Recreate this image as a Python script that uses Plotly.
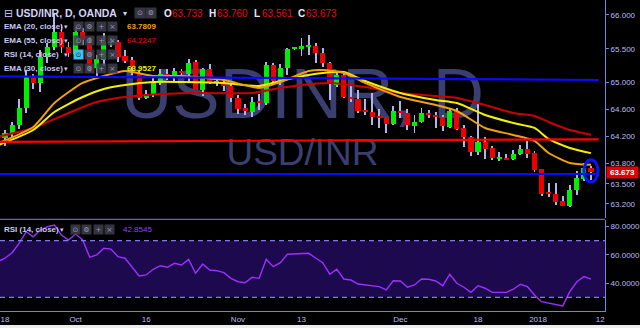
import plotly.graph_objects as go

# ---------------- data ----------------
bar_index = list(range(-1, 84))

opens = [64.222, 64.178, 64.237, 64.370, 64.622, 65.081, 64.993, 65.378, 65.526, 65.748,
         65.526, 65.422, 65.748, 65.600, 65.215, 65.333, 65.585, 65.600, 65.392, 65.333,
         65.141, 64.770, 64.815, 64.993, 65.126, 65.066, 65.170, 65.126, 65.304, 64.889,
         65.200, 64.993, 64.993, 64.948, 64.770, 64.622, 64.563, 64.711, 64.696, 65.259,
         65.022, 65.215, 65.496, 65.496, 65.533, 65.541, 65.437, 65.289, 64.963, 65.111,
         64.785, 64.755, 64.592, 64.563, 64.504, 64.489, 64.385, 64.578, 64.548, 64.355,
         64.415, 64.548, 64.518, 64.489, 64.341, 64.578, 64.326, 64.192, 63.970, 64.118,
         64.030, 63.874, 63.881, 63.866, 63.941, 64.015, 63.955, 63.719, 63.363, 63.348,
         63.244, 63.170, 63.407, 63.570, 63.733]
highs = [64.252, 64.296, 64.415, 64.755, 65.185, 65.126, 65.481, 65.585, 66.029, 65.852,
         65.600, 65.822, 65.807, 65.674, 65.407, 65.733, 65.659, 65.630, 65.481, 65.378,
         65.185, 64.889, 65.111, 65.200, 65.200, 65.215, 65.200, 65.348, 65.333, 65.215,
         65.274, 65.052, 65.052, 64.978, 64.815, 64.681, 64.785, 64.830, 65.304, 65.289,
         65.274, 65.511, 65.511, 65.659, 65.704, 65.585, 65.511, 65.304, 65.155, 65.155,
         64.963, 64.889, 64.755, 64.844, 64.607, 64.489, 64.652, 64.726, 64.607, 64.518,
         64.622, 64.592, 64.563, 64.518, 64.622, 64.622, 64.370, 64.207, 64.696, 64.192,
         64.059, 63.970, 63.941, 64.000, 64.074, 64.133, 63.985, 63.719, 63.511, 63.511,
         63.318, 63.481, 63.689, 63.807, 63.760]
lows = [64.148, 64.059, 64.192, 64.311, 64.548, 64.904, 64.859, 65.289, 65.481, 65.437,
        65.378, 65.363, 65.555, 65.155, 65.096, 65.244, 65.526, 65.304, 65.289, 65.111,
        64.741, 64.755, 64.785, 64.963, 65.037, 65.022, 65.081, 65.007, 64.885, 64.800,
        64.978, 64.948, 64.874, 64.711, 64.533, 64.518, 64.489, 64.592, 64.667, 64.978,
        64.963, 65.111, 65.481, 65.392, 65.407, 65.289, 65.229, 64.741, 64.933, 64.770,
        64.711, 64.548, 64.518, 64.370, 64.326, 64.252, 64.370, 64.474, 64.296, 64.252,
        64.400, 64.474, 64.326, 64.281, 64.326, 64.296, 64.044, 63.911, 63.926, 63.866,
        63.852, 63.837, 63.866, 63.852, 63.926, 63.881, 63.674, 63.318, 63.304, 63.185,
        63.170, 63.155, 63.333, 63.541, 63.561]
closes = [64.178, 64.252, 64.370, 64.622, 65.081, 64.993, 65.378, 65.526, 65.748, 65.526,
          65.437, 65.748, 65.630, 65.229, 65.348, 65.600, 65.600, 65.378, 65.318, 65.229,
          64.770, 64.830, 64.993, 65.126, 65.066, 65.170, 65.141, 65.289, 64.889, 65.200,
          64.993, 65.007, 64.948, 64.770, 64.607, 64.578, 64.711, 64.696, 65.259, 65.022,
          65.215, 65.496, 65.504, 65.541, 65.541, 65.437, 65.289, 64.978, 65.111, 64.785,
          64.755, 64.578, 64.563, 64.489, 64.474, 64.385, 64.578, 64.548, 64.370, 64.415,
          64.548, 64.518, 64.489, 64.355, 64.578, 64.311, 64.192, 63.970, 64.118, 64.015,
          63.881, 63.881, 63.866, 63.941, 64.015, 63.941, 63.704, 63.348, 63.348, 63.230,
          63.170, 63.407, 63.585, 63.733, 63.673]

rsi = [55.2, 57.6, 61.5, 68.1, 76.4, 72.8, 77.6, 79.9, 81.1, 74.0,
       70.5, 74.7, 70.5, 58.3, 59.9, 64.6, 64.1, 58.7, 57.6, 51.6,
       45.1, 45.8, 49.8, 52.3, 51.2, 54.0, 52.8, 56.8, 47.0, 53.5,
       49.3, 48.8, 47.4, 43.4, 41.0, 40.3, 44.1, 43.4, 56.8, 51.6,
       54.5, 60.4, 60.6, 61.1, 61.1, 57.8, 54.5, 46.3, 49.8, 42.9,
       42.2, 39.4, 38.7, 38.0, 37.5, 35.2, 41.7, 41.5, 37.1, 38.7,
       42.9, 42.7, 41.5, 38.2, 46.3, 39.9, 37.1, 33.5, 38.2, 36.4,
       33.5, 33.5, 33.5, 35.7, 39.2, 37.5, 31.6, 26.9, 26.0, 25.3,
       23.9, 34.0, 41.0, 44.6, 42.85]

ema20_idx = [-1, 4, 7, 11, 14, 17, 21, 25, 31, 36, 39, 43, 45, 48, 51, 56, 61, 64, 68, 72, 75, 77, 80, 83]
ema20_val = [64.100, 64.341, 64.696, 64.993, 65.096, 65.170, 65.096, 65.096, 65.037, 64.918, 65.007, 65.170,
             65.185, 65.141, 64.993, 64.785, 64.667, 64.578, 64.326, 64.222, 64.133, 63.955, 63.807, 63.781]
ema30_idx = [-1, 4, 7, 11, 14, 17, 21, 25, 31, 36, 39, 43, 45, 48, 51, 56, 61, 64, 68, 72, 75, 77, 80, 83]
ema30_val = [64.070, 64.296, 64.563, 64.785, 64.904, 64.963, 65.007, 65.007, 64.993, 64.948, 65.022, 65.111,
             65.141, 65.155, 65.022, 64.844, 64.741, 64.696, 64.518, 64.400, 64.326, 64.163, 64.030, 63.953]
ema55_idx = [-1, 4, 9, 13, 17, 20, 27, 35, 39, 42, 46, 51, 56, 61, 64, 68, 72, 75, 77, 80, 83]
ema55_val = [64.195, 64.326, 64.548, 64.711, 64.785, 64.815, 64.844, 64.844, 64.918, 64.963, 64.993, 64.933,
             64.844, 64.800, 64.770, 64.667, 64.548, 64.504, 64.415, 64.296, 64.225]

# user-drawn level lines: (start index, start value, end index, end value)
level_blue_hi = (-1.0, 65.090, 84.1, 65.037)
level_red = (-1.0, 64.120, 84.1, 64.158)
level_blue_lo = (-1.0, 63.644, 84.1, 63.644)

price_ticks = [63.2, 63.5, 63.8, 64.2, 64.6, 65.0, 65.5, 66.0]
rsi_ticks = [40, 60, 80]
tick_pos = [0, 10, 20, 33, 42, 56, 67, 75.5, 84.3]
tick_text = ["18", "Oct", "16", "Nov", "13", "Dec", "18", "2018", "12"]

legend_rows = [("EMA (20, close)", "63.7809", "#f0a010"),
               ("EMA (55, close)", "64.2247", "#c80000"),
               ("RSI (14, close)", "", "#ffffff"),
               ("EMA (30, close)", "63.9527", "#f0f000")]

# ---------------- styling ----------------
GREEN = "#00ee00"
RED = "#ee0000"
WICK = "#b4b4ea"
AX = "#8080dc"
TXT = "#bcbcf4"
FONT = "Liberation Sans, Arial, DejaVu Sans, sans-serif"

W, H = 640, 328
ML, MR, MT, MB = 0, 35, 0, 17
PW, PH = W - ML - MR, H - MT - MB

fig = go.Figure()

# wicks
fig.add_trace(go.Bar(x=bar_index, y=[h - l for h, l in zip(highs, lows)], base=lows,
                     width=0.13, marker=dict(color=WICK, line=dict(width=0)),
                     xaxis="x", yaxis="y", hoverinfo="skip"))
# bodies
body_base = [min(o, c) for o, c in zip(opens, closes)]
body_h = [max(abs(c - o), 0.016) for o, c in zip(opens, closes)]
body_col = [GREEN if c >= o else RED for o, c in zip(opens, closes)]
fig.add_trace(go.Bar(x=bar_index, y=body_h, base=body_base, width=0.72,
                     marker=dict(color=body_col, line=dict(width=0)),
                     xaxis="x", yaxis="y", hoverinfo="skip"))

# EMAs
fig.add_trace(go.Scatter(x=ema55_idx, y=ema55_val, mode="lines", line=dict(color="#cc0000", width=2, shape="spline", smoothing=0.6), xaxis="x", yaxis="y"))
fig.add_trace(go.Scatter(x=ema30_idx, y=ema30_val, mode="lines", line=dict(color="#f5f000", width=2, shape="spline", smoothing=0.6), xaxis="x", yaxis="y"))
fig.add_trace(go.Scatter(x=ema20_idx, y=ema20_val, mode="lines", line=dict(color="#f0a010", width=2, shape="spline", smoothing=0.6), xaxis="x", yaxis="y"))

# level lines
for lv, col in ((level_blue_hi, "#0a0aff"), (level_red, "#ff0000"), (level_blue_lo, "#0a0aff")):
    fig.add_trace(go.Scatter(x=[lv[0], lv[2]], y=[lv[1], lv[3]], mode="lines",
                             line=dict(color=col, width=2.2), xaxis="x", yaxis="y"))

# RSI
fig.add_trace(go.Scatter(x=bar_index, y=rsi, mode="lines", line=dict(color="#9b30ff", width=1.4),
                         xaxis="x2", yaxis="y2"))

shapes = []
# watermark (behind the series)
shapes.append(dict(type="rect", xref="x domain", yref="y domain", x0=0, x1=1, y0=0.50, y1=0.71,
                   line=dict(width=0), fillcolor="rgba(0,0,0,0)", layer="below",
                   label=dict(text="USDINR, D", textposition="middle center",
                              font=dict(size=71, color="#3a3f70", family=FONT))))
shapes.append(dict(type="rect", xref="x domain", yref="y domain", x0=0, x1=1, y0=0.25, y1=0.39,
                   line=dict(width=0), fillcolor="rgba(0,0,0,0)", layer="below",
                   label=dict(text="USD/INR", textposition="middle center",
                              font=dict(size=37, color="#3a3f70", family=FONT))))
# RSI band
shapes.append(dict(type="rect", xref="x2 domain", yref="y2", x0=0, x1=1, y0=30, y1=70,
                   fillcolor="#1d0a4e", line=dict(width=0), layer="below"))
for lvl in (30, 70):
    shapes.append(dict(type="line", xref="x2 domain", yref="y2", x0=0, x1=1, y0=lvl, y1=lvl,
                       line=dict(color="#8078ec", width=1.3, dash="5px,4px")))
# pane separator
sep_y = (PH - 219.3) / PH
shapes.append(dict(type="line", xref="paper", yref="paper", x0=0, x1=1, y0=sep_y, y1=sep_y,
                   line=dict(color=AX, width=1)))
# bottom light strip
shapes.append(dict(type="rect", xref="paper", yref="paper", x0=-0.01, x1=W / PW + 0.01,
                   y0=-(H - PH + 2) / PH, y1=-(325 - PH) / PH, fillcolor="#ececec", line=dict(width=0)))
# highlight ellipse around the last candle
last_i = bar_index[-1]
cy = (highs[-1] + lows[-1]) / 2 + 0.03
shapes.append(dict(type="circle", xref="x", yref="y", x0=last_i - 1.0, x1=last_i + 1.0,
                   y0=cy - 0.165, y1=cy + 0.165, line=dict(color="#0a14ff", width=3)))

ann = []


def px(x):
    return (x - ML) / PW


def py(y):
    return (PH - (y - MT)) / PH


def text(t, x, y, size=8, color="#c8c8f4", bold=False, anchor="left", **kw):
    ann.append(dict(text=("<b>%s</b>" % t) if bold else t, x=px(x), y=py(y), xref="paper", yref="paper",
                    xanchor=anchor, yanchor="middle", showarrow=False,
                    font=dict(size=size, color=color, family=FONT), **kw))


def icon(glyph, cx, cy, bg="rgba(62,62,78,0.85)", fg="#9a9ab0", size=9):
    ann.append(dict(text=glyph, x=px(cx), y=py(cy), xref="paper", yref="paper", xanchor="center",
                    yanchor="middle", showarrow=False, width=size, height=size, bgcolor=bg, borderpad=0,
                    font=dict(size=7, color=fg, family="DejaVu Sans")))


# title row
text("⊟", 2, 13, size=11, color="#c8c8f4")
text("USD/INR, D, OANDA", 14, 13, size=10.5, color="#d4d4f8", bold=True)
text("▾", 121, 13, size=8, color="#d4d4f8")
icon("⊙", 140, 13, size=10)
icon("⚙", 151, 13, size=10)
ohlc = [("O", opens[-1], 162), ("H", highs[-1], 207), ("L", lows[-1], 252), ("C", closes[-1], 296)]
for lab, val, x in ohlc:
    text(lab, x, 13, size=10, color="#e8e8ff", bold=True)
    text("%.3f" % val, x + 8, 13, size=10, color="#e01010")

# indicator rows
row_y = [26.7, 40.7, 54.7, 68.7]
for (name, val, col), y in zip(legend_rows, row_y):
    text(name, 2, y, size=8, color="#c8c8f4", bold=True)
    text("▾", 62, y, size=7, color="#c8c8f4")
    if name.startswith("RSI"):
        icon("⊙", 78, y, bg="#3cc4ee", fg="#1a2a40")
    else:
        icon("⊙", 78, y)
    icon("⚙", 89.5, y)
    icon("+", 101, y)
    icon("×", 112.5, y)
    if val:
        text(val, 125, y, size=8, color=col, bold=True)

# RSI pane legend
text("RSI (14, close)", 2, 230, size=8, color="#c8c8f4", bold=True)
text("▾", 58, 230, size=7, color="#c8c8f4")
icon("⊙", 75, 230)
icon("⚙", 86.5, 230)
icon("+", 98, 230)
icon("×", 109.5, 230)
text("%.4f" % 42.8545, 121, 230, size=8, color="#9040ff")

# last price label on the axis
ann.append(dict(text="<b>%.3f</b>" % closes[-1], x=1, y=closes[-1], xref="paper", yref="y",
                xanchor="left", yanchor="middle", xshift=1, showarrow=False, bgcolor="#e00000",
                width=31, height=11, borderpad=0, font=dict(size=8, color="#ffffff", family=FONT)))

xr = [-5.0 / 7.06, (PW - 5.0) / 7.06]
main_dom = [1 - 218.0 / PH, 1]
rsi_dom = [0, (PH - 219.5) / PH]

fig.update_layout(
    width=W, height=H, margin=dict(l=ML, r=MR, t=MT, b=MB),
    paper_bgcolor="#000000", plot_bgcolor="#000000",
    showlegend=False, barmode="overlay", bargap=0,
    shapes=shapes, annotations=ann,
    xaxis=dict(domain=[0, 1], range=xr, anchor="y", showgrid=False, zeroline=False,
               showticklabels=False, showline=False, ticks=""),
    yaxis=dict(domain=main_dom, range=[62.992, 66.222], side="right", anchor="x",
               tickvals=price_ticks, ticktext=["%.3f" % v for v in price_ticks],
               showgrid=False, zeroline=False, showline=True, linecolor=AX, linewidth=1,
               ticks="outside", ticklen=3, tickcolor=AX,
               tickfont=dict(size=8, color=TXT, family=FONT)),
    xaxis2=dict(domain=[0, 1], range=xr, anchor="y2", showgrid=False, zeroline=False,
                showline=True, linecolor=AX, linewidth=1, ticks="",
                tickvals=tick_pos, ticktext=tick_text,
                tickfont=dict(size=8, color=TXT, family=FONT)),
    yaxis2=dict(domain=rsi_dom, range=[20.3, 85.0], side="right", anchor="x2",
                tickvals=rsi_ticks, ticktext=["%.4f" % v for v in rsi_ticks],
                showgrid=False, zeroline=False, showline=True, linecolor=AX, linewidth=1,
                ticks="outside", ticklen=3, tickcolor=AX,
                tickfont=dict(size=8, color=TXT, family=FONT)),
)

fig.write_html("out.html")
